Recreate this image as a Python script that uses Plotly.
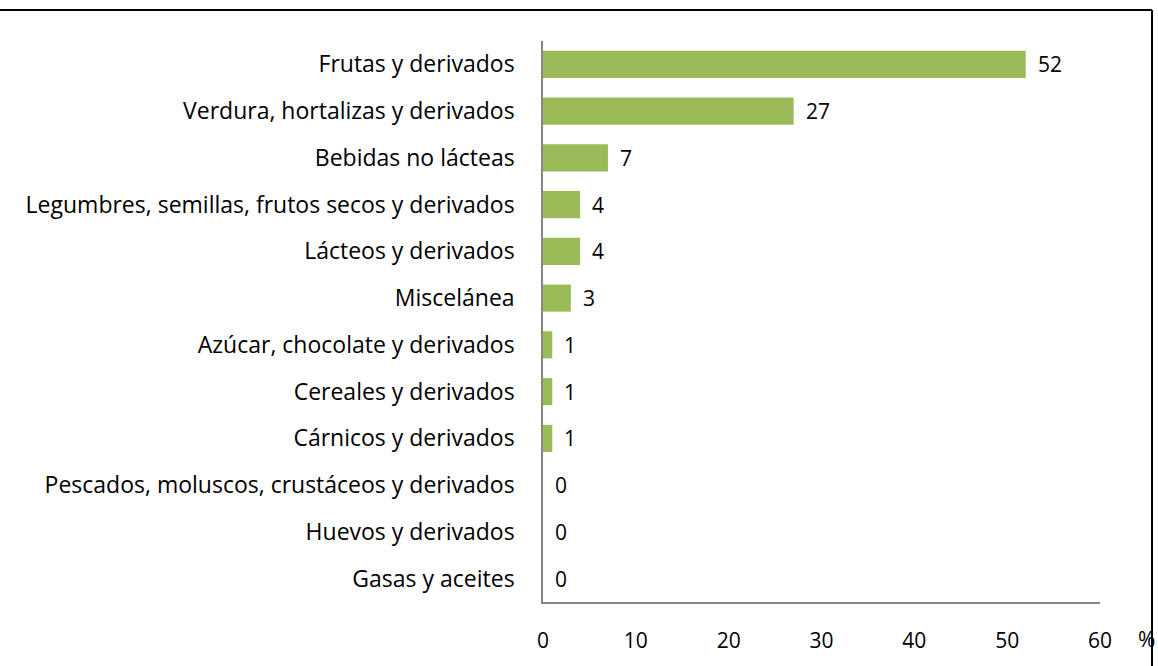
import plotly.graph_objects as go

categories = [
    "Frutas y derivados",
    "Verdura, hortalizas y derivados",
    "Bebidas no lácteas",
    "Legumbres, semillas, frutos secos y derivados",
    "Lácteos y derivados",
    "Miscelánea",
    "Azúcar, chocolate y derivados",
    "Cereales y derivados",
    "Cárnicos y derivados",
    "Pescados, moluscos, crustáceos y derivados",
    "Huevos y derivados",
    "Gasas y aceites",
]
values = [52, 27, 7, 4, 4, 3, 1, 1, 1, 0, 0, 0]
x_ticks = [0, 10, 20, 30, 40, 50, 60]

FONT = "Open Sans"
SIZE = 22
GREEN = "#9BBB59"
AXIS = "#868686"

fig = go.Figure(
    go.Bar(
        x=values,
        y=categories,
        orientation="h",
        marker=dict(color=GREEN, line=dict(width=0)),
        hoverinfo="x+y",
    )
)

# value labels just right of each bar end
for cat, val in zip(categories, values):
    fig.add_annotation(
        x=val, y=cat, text=str(val), showarrow=False,
        xanchor="left", xshift=10,
        font=dict(family=FONT, size=SIZE - 1, color="#000000"),
    )

# axis unit
fig.add_annotation(
    x=1.0, y=0, xref="paper", yref="paper", text="%", showarrow=False,
    xanchor="left", yanchor="top", xshift=36, yshift=-21,
    font=dict(family=FONT, size=SIZE - 1, color="#000000"),
)

# frame lines (top and right)
fig.add_shape(type="line", xref="paper", yref="paper",
              x0=-0.98, x1=1.0934, y0=1.0551, y1=1.0551,
              line=dict(color="#000000", width=2))
fig.add_shape(type="line", xref="paper", yref="paper",
              x0=1.0934, x1=1.0934, y0=1.0551, y1=-0.12,
              line=dict(color="#000000", width=2))

fig.update_layout(
    width=1158, height=666,
    margin=dict(l=543, r=58, t=41, b=62),
    paper_bgcolor="white", plot_bgcolor="white",
    bargap=0.42,
    showlegend=False,
    font=dict(family=FONT, size=SIZE, color="#000000"),
)
fig.update_xaxes(
    range=[0, 60], tickvals=x_ticks, showgrid=False, zeroline=False,
    showline=True, linecolor=AXIS, linewidth=1.5,
    ticks="", ticklabelstandoff=19,
    tickfont=dict(family=FONT, size=SIZE - 1, color="#000000"),
)
fig.update_yaxes(
    categoryorder="array", categoryarray=categories, autorange="reversed",
    showgrid=False, zeroline=False,
    showline=True, linecolor=AXIS, linewidth=1.5,
    ticks="", ticklabelstandoff=22,
    tickfont=dict(family=FONT, size=SIZE + 1, color="#000000"),
)

fig.write_html("out.html", config={"displayModeBar": False},
               post_script="document.body.style.margin='0';")
